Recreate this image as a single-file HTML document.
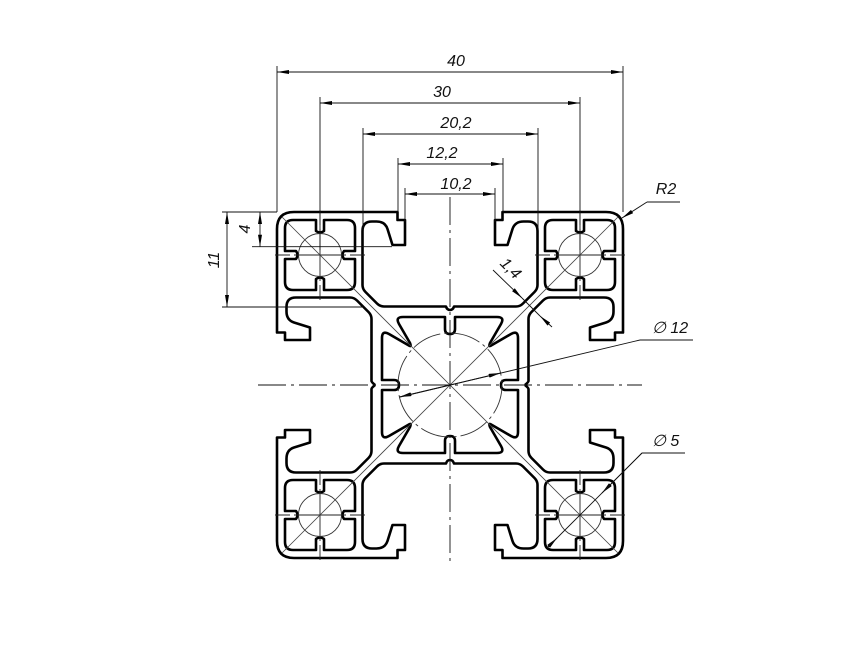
<!DOCTYPE html>
<html><head><meta charset="utf-8"><style>
html,body{margin:0;padding:0;background:#fff;}
svg{display:block;}
text{font-family:"Liberation Sans",sans-serif;font-style:italic;font-size:16px;fill:#111;}
</style></head><body>
<svg width="866" height="650" viewBox="0 0 866 650" xmlns="http://www.w3.org/2000/svg">
<defs>
<marker id="a" viewBox="0 0 12 4" refX="12" refY="2" markerWidth="12" markerHeight="4" markerUnits="userSpaceOnUse" orient="auto">
<path d="M0,0 L12,2 L0,4 Z" fill="#000"/></marker>
<path id="oq" d="M 0,-75 Q -3,-75 -4,-78.5 L -66,-78.5 Q -70,-78.5 -73,-81.5 L -84.5,-93 Q -87.5,-96 -87.5,-100 L -87.5,-154 Q -87.5,-163.5 -78,-163.5 L -73.5,-163.5 Q -65,-163.5 -62.5,-156 L -57.5,-140 L -45,-140 L -45,-165 L -52.5,-165 L -52.5,-173 L -156,-173 Q -173,-173 -173,-156 L -173,-52.5 L -165,-52.5 L -165,-45 L -140,-45 L -140,-57.5 L -156,-62.5 Q -163.5,-65 -163.5,-73.5 L -163.5,-78 Q -163.5,-87.5 -154,-87.5 L -100,-87.5 Q -96,-87.5 -93,-84.5 L -81.5,-73 Q -78.5,-70 -78.5,-66 L -78.5,-4 Q -78.5,-3 -75,0" fill="none" stroke="#000" stroke-width="2.6" stroke-linejoin="round"/>
<path id="cq" d="M 0,-51 Q -5,-51 -5,-56 L -5,-68 L -47,-68 Q -55,-68 -51,-61 L -40,-42 Q -38,-37 -42,-40 L -61,-51 Q -68,-55 -68,-47 L -68,-5 L -56,-5 Q -51,-5 -51,0" fill="none" stroke="#000" stroke-width="2.6" stroke-linejoin="round"/>
<g id="cav">
<path d="M -27,-35 L -4,-35 L -4,-24 Q 0,-21 4,-24 L 4,-35 L 27,-35 Q 35,-35 35,-27 L 35,-4 L 24,-4 Q 21,0 24,4 L 35,4 L 35,27 Q 35,35 27,35 L 4,35 L 4,24 Q 0,21 -4,24 L -4,35 L -27,35 Q -35,35 -35,27 L -35,4 L -24,4 Q -21,0 -24,-4 L -35,-4 L -35,-27 Q -35,-35 -27,-35 Z" fill="none" stroke="#000" stroke-width="2.6" stroke-linejoin="round"/>
<circle r="21.5" fill="none" stroke="#333" stroke-width="0.9"/>
<path d="M -45,0 L -30,0 M -26,0 L 26,0 M 30,0 L 45,0 M 0,-45 L 0,-30 M 0,-26 L 0,26 M 0,30 L 0,45" stroke="#222" stroke-width="0.9"/>
</g>
</defs>

<g transform="translate(450,385)">
<use href="#oq"/><use href="#oq" transform="scale(-1,1)"/><use href="#oq" transform="scale(1,-1)"/><use href="#oq" transform="scale(-1,-1)"/>
<use href="#cq"/><use href="#cq" transform="scale(-1,1)"/><use href="#cq" transform="scale(1,-1)"/><use href="#cq" transform="scale(-1,-1)"/>
<use href="#cav" transform="translate(-130,-130)"/><use href="#cav" transform="translate(130,-130)"/>
<use href="#cav" transform="translate(-130,130)"/><use href="#cav" transform="translate(130,130)"/>
<circle r="52" fill="none" stroke="#333" stroke-width="0.9" stroke-dasharray="30,4,3,4"/>
<path d="M -168,-168 L 168,168 M 168,-168 L -168,168" stroke="#444" stroke-width="0.8"/>
<path d="M -192,0 L 192,0 M 0,-188 L 0,180" stroke="#111" stroke-width="0.9" stroke-dasharray="28,5,3,5"/>
</g>

<g stroke="#111" stroke-width="0.9" fill="none">
<path d="M277,66 L277,212 M623,66 L623,212 M320,97 L320,250 M580,97 L580,250 M363,128 L363,230 M538,128 L538,230 M398,158 L398,212 M503,158 L503,212 M405,188 L405,222 M495,188 L495,222"/>
<path d="M222,212 L277,212 M252,246.7 L392,246.7 M222,307 L363,307"/>
<g marker-end="url(#a)">
<path d="M450,72 L277,72"/><path d="M450,72 L623,72"/>
<path d="M450,103 L320,103"/><path d="M450,103 L580,103"/>
<path d="M450,134 L363,134"/><path d="M450,134 L538,134"/>
<path d="M450,164 L398,164"/><path d="M450,164 L503,164"/>
<path d="M450,194 L405,194"/><path d="M450,194 L495,194"/>
<path d="M260,229 L260,212"/><path d="M260,229 L260,246.7"/>
<path d="M227,260 L227,212"/><path d="M227,260 L227,307"/>
<path d="M647,202 L622,218"/>
<path d="M493,270 L522,298"/><path d="M552,327 L540,316"/>
<path d="M450,385 L500.6,373"/><path d="M450,385 L399.4,397"/>
<path d="M642,453 L602,493"/><path d="M547,548 L557,538"/>
</g>
<path d="M647,202 L680,202"/>
<path d="M522,298 L540,316"/>
<path d="M640,340 L693,340 M640,340 L400,397"/>
<path d="M642,453 L685,453 M642,453 L547,548"/>
</g>

<text x="456" y="66" text-anchor="middle">40</text>
<text x="442" y="97" text-anchor="middle">30</text>
<text x="456" y="128" text-anchor="middle">20,2</text>
<text x="442" y="158" text-anchor="middle">12,2</text>
<text x="456" y="189" text-anchor="middle">10,2</text>
<text x="666" y="194" text-anchor="middle">R2</text>
<text transform="translate(250,229) rotate(-90)" text-anchor="middle">4</text>
<text transform="translate(219,260) rotate(-90)" text-anchor="middle">11</text>
<text transform="translate(507,272) rotate(45)" text-anchor="middle">1,4</text>
<text x="652" y="333">∅ 12</text>
<text x="652" y="446">∅ 5</text>
</svg>
</body></html>
